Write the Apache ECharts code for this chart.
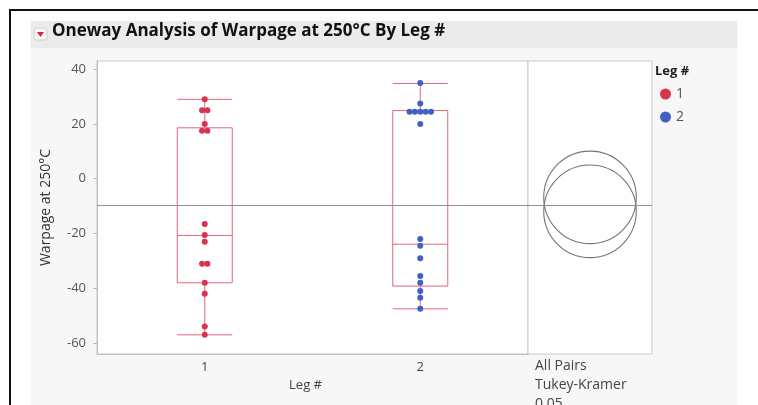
<!DOCTYPE html>
<html>
<head>
<meta charset="utf-8">
<script src="https://cdn.jsdelivr.net/npm/echarts@6/dist/echarts.min.js"></script>
<style>
html,body{margin:0;padding:0;background:#fff;}
#main{width:758px;height:405px;}
</style>
</head>
<body>
<div id="main"></div>
<script>
// ---- data ----
var categories = ['1', '2'];
var leg1Values = [29, 25, 25, 20, 17.5, 17.5, -16.5, -20.5, -23, -31, -31, -38, -42, -54, -57];
var leg2Values = [35, 27.5, 24.5, 24.5, 24.5, 24.5, 24.5, 20, -22, -24.5, -29, -35.5, -38, -41, -43.5, -47.5];
// box stats: [min, Q1, median, Q3, max]
var leg1Box = [-57, -38, -20.7, 18.6, 29];
var leg2Box = [-47.5, -39.2, -23.9, 24.9, 34.8];
var grandMean = -9.8;
// comparison circles: [mean, radius]
var circleLeg1 = [-11.9, 16.9];
var circleLeg2 = [-6.8, 16.9];
var yTicks = [-60, -40, -20, 0, 20, 40];
var compLabels = ['All Pairs', 'Tukey-Kramer', '0.05'];

var RED = '#d8334f', BLUE = '#4060c6', BOXC = '#e2687a';
var FONT = '"Open Sans", "Noto Sans", sans-serif';

function jitter(vals, center) {
  var counts = {}, seen = {};
  vals.forEach(function (v) { counts[v] = (counts[v] || 0) + 1; });
  return vals.map(function (v) {
    var k = counts[v], i = seen[v] || 0; seen[v] = i + 1;
    return [center + (i - (k - 1) / 2) * 0.025, v];
  });
}

var chart = echarts.init(document.getElementById('main'), null, {renderer: 'canvas'});
var yBase = {
  type: 'value', min: -64, max: 43,
  splitLine: {show: false}
};
var option = {
  animation: false,
  backgroundColor: '#fff',
  textStyle: {fontFamily: FONT},
  graphic: [
    {type: 'rect', z: -10, shape: {x: 31, y: 48, width: 706, height: 360}, style: {fill: '#f7f7f7'}},
    {type: 'rect', z: -9, shape: {x: 31, y: 21, width: 706, height: 27}, style: {fill: '#ebebeb'}},
    {type: 'rect', shape: {x: 10, y: 9, width: 748, height: 2}, style: {fill: '#111'}},
    {type: 'rect', shape: {x: 9, y: 9, width: 2, height: 396}, style: {fill: '#111'}},
    {type: 'rect', shape: {x: 34, y: 28, width: 13, height: 12, r: 2}, style: {fill: '#f4f4f4', stroke: '#d0d0d0', lineWidth: 1}},
    {type: 'polygon', shape: {points: [[37, 32], [44, 32], [40.5, 37]]}, style: {fill: '#d8243c'}},
    {type: 'text', left: 52, top: 23, style: {text: 'Oneway Analysis of Warpage at 250°C By Leg #', font: 'bold 17px ' + FONT, fill: '#111'}},
    {type: 'text', left: 655, top: 65, style: {text: 'Leg #', font: 'bold 13px ' + FONT, fill: '#222'}},
    {type: 'text', left: 535, top: 357, style: {text: compLabels.join('\n'), font: '14px ' + FONT, fill: '#444', lineHeight: 19}}
  ],
  legend: {
    left: 655, top: 82, orient: 'vertical', itemWidth: 11, itemHeight: 11, itemGap: 9,
    icon: 'circle',
    textStyle: {fontSize: 14, color: '#555', fontFamily: FONT},
    data: ['1', '2']
  },
  grid: [
    {left: 97, top: 61, width: 431, height: 293, show: true, backgroundColor: '#fff', borderColor: '#c9c9c9', borderWidth: 1},
    {left: 528, top: 61, width: 124, height: 293, show: true, backgroundColor: '#fff', borderColor: '#c9c9c9', borderWidth: 1}
  ],
  xAxis: [
    {type: 'category', gridIndex: 0, data: categories, boundaryGap: true,
     name: 'Leg #', nameLocation: 'middle', nameGap: 25,
     nameTextStyle: {fontSize: 13, color: '#444', fontFamily: FONT, padding: [0, 14, 0, 0]},
     axisLine: {onZero: false, lineStyle: {color: '#bdbdbd'}},
     axisTick: {length: 5, lineStyle: {color: '#bdbdbd'}},
     axisLabel: {fontSize: 13, color: '#444', margin: 7, fontFamily: FONT}},
    {type: 'value', gridIndex: 0, min: 0.5, max: 2.5, show: false},
    {type: 'value', gridIndex: 1, min: 0, max: 1, show: false}
  ],
  yAxis: [
    Object.assign({}, yBase, {gridIndex: 0,
      name: 'Warpage at 250°C', nameLocation: 'middle', nameGap: 44, nameRotate: 90,
      nameTextStyle: {fontSize: 14, color: '#333', fontFamily: FONT},
      axisLine: {show: true, lineStyle: {color: '#bdbdbd'}},
      axisTick: {show: true, length: 4, customValues: yTicks, lineStyle: {color: '#bdbdbd'}},
      axisLabel: {fontSize: 13, color: '#555', margin: 11, customValues: yTicks, fontFamily: FONT}}),
    Object.assign({}, yBase, {gridIndex: 1, show: false})
  ],
  series: [
    {type: 'boxplot', name: 'box', xAxisIndex: 0, yAxisIndex: 0,
     boxWidth: [55, 55], silent: true,
     itemStyle: {color: 'transparent', borderColor: BOXC, borderWidth: 1},
     data: [leg1Box, leg2Box], z: 2},
    {type: 'scatter', name: '1', xAxisIndex: 1, yAxisIndex: 0, symbolSize: 6,
     itemStyle: {color: RED, opacity: 1}, data: jitter(leg1Values, 1), z: 5,
     markLine: {silent: true, symbol: 'none', label: {show: false},
       lineStyle: {color: '#9a8f8f', width: 1, type: 'solid'}, data: [{yAxis: grandMean}]}},
    {type: 'scatter', name: '2', xAxisIndex: 1, yAxisIndex: 0, symbolSize: 6,
     itemStyle: {color: BLUE, opacity: 1}, data: jitter(leg2Values, 2), z: 5},
    {type: 'custom', name: 'circles', xAxisIndex: 2, yAxisIndex: 1, silent: true,
     data: [[0.5, circleLeg1[0], circleLeg1[1]], [0.5, circleLeg2[0], circleLeg2[1]]],
     renderItem: function (params, api) {
       var c = api.coord([api.value(0), api.value(1)]);
       var r = api.size([0, api.value(2)])[1];
       return {type: 'circle', shape: {cx: c[0], cy: c[1], r: r},
               style: {fill: 'none', stroke: '#7d7272', lineWidth: 1.1}};
     },
     markLine: {silent: true, symbol: 'none', label: {show: false},
       lineStyle: {color: '#9a8f8f', width: 1, type: 'solid'}, data: [{yAxis: grandMean}]}}
  ]
};
chart.setOption(option);
</script>
</body>
</html>
